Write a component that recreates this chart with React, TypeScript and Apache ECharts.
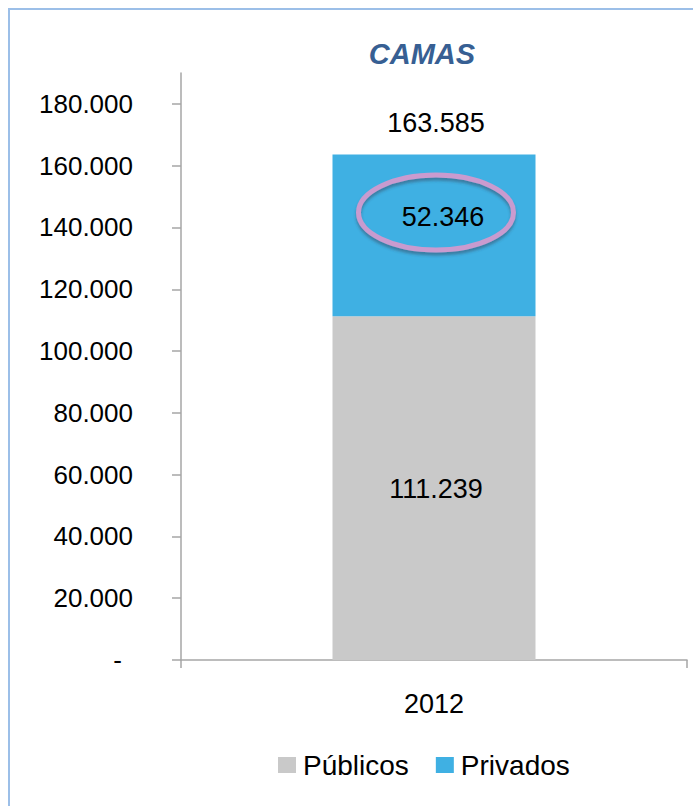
import React, { useEffect, useRef } from "react";
import * as echarts from "echarts";

const categories: string[] = ["2012"];
const publicos: number[] = [111239];
const privados: number[] = [52346];
const seriesNames: string[] = ["Públicos", "Privados"];
const yTicks: number[] = [0, 20000, 40000, 60000, 80000, 100000, 120000, 140000, 160000, 180000];
const titleText = "CAMAS";

const FONT = "'Liberation Sans', Arial, sans-serif";
const fmt = (v: number) => (v === 0 ? "-" : v.toLocaleString("de-DE"));

export default function App() {
  const ref = useRef<HTMLDivElement>(null);
  useEffect(() => {
    document.body.style.margin = "0";
    document.body.style.overflow = "hidden";
    if (!ref.current) return;
    const chart = echarts.init(ref.current, undefined, { renderer: "svg" });
    const totals = publicos.map((v, i) => v + privados[i]);
    chart.setOption({
      animation: false,
      title: {
        text: titleText,
        left: 407,
        top: 24,
        textAlign: "center",
        textStyle: {
          fontFamily: FONT,
          fontSize: 29,
          fontWeight: "bold",
          fontStyle: "italic",
          color: "#375f93",
        },
      },
      legend: {
        bottom: 22,
        left: 263,
        itemWidth: 18,
        itemHeight: 16,
        itemGap: 27,
        icon: "rect",
        textStyle: { fontFamily: FONT, fontSize: 28, color: "#000", padding: [0, 0, 0, 2] },
        data: seriesNames,
      },
      grid: { left: 171, right: 6, top: 63, bottom: 146 },
      xAxis: {
        type: "category",
        data: categories,
        axisLine: { lineStyle: { color: "#a6a6a6", width: 1.5 } },
        axisTick: { show: true, length: 8, lineStyle: { color: "#a6a6a6", width: 1.5 } },
        axisLabel: { fontFamily: FONT, fontSize: 27, color: "#000", margin: 30 },
      },
      yAxis: {
        type: "value",
        min: 0,
        max: 190000,
        interval: 20000,
        splitLine: { show: false },
        axisLine: { show: true, lineStyle: { color: "#a6a6a6", width: 1.5 } },
        axisTick: {
          show: true,
          length: 9,
          customValues: yTicks,
          lineStyle: { color: "#a6a6a6", width: 1.5 },
        },
        axisLabel: {
          customValues: yTicks,
          fontFamily: FONT,
          fontSize: 26,
          color: "#000",
          margin: 48,
          formatter: (v: number) => (v === 0 ? "{d|-}" : fmt(v)),
          rich: { d: { fontFamily: FONT, fontSize: 26, color: "#000", padding: [0, 11, 0, 0] } },
        },
      },
      series: [
        {
          name: seriesNames[0],
          type: "bar",
          stack: "total",
          data: publicos,
          barWidth: 203,
          itemStyle: { color: "#c9c9c9" },
          label: {
            show: true,
            position: "inside",
            offset: [2, 1],
            fontFamily: FONT,
            fontSize: 27,
            color: "#000",
            textBorderWidth: 0,
            formatter: (p: any) => fmt(p.value),
          },
        },
        {
          name: seriesNames[1],
          type: "bar",
          stack: "total",
          data: privados,
          barWidth: 203,
          itemStyle: { color: "#3fb0e3" },
          label: {
            show: true,
            position: "inside",
            offset: [9, -18],
            fontFamily: FONT,
            fontSize: 27,
            color: "#000",
            textBorderWidth: 0,
            formatter: (p: any) => fmt(p.value),
          },
        },
        {
          name: "Total",
          type: "scatter",
          data: totals,
          symbolSize: 0,
          silent: true,
          itemStyle: { opacity: 1, color: "#000" },
          label: {
            show: true,
            position: "top",
            distance: 18,
            offset: [2, 0],
            fontFamily: FONT,
            fontSize: 27,
            color: "#000",
            opacity: 1,
            textBorderWidth: 0,
            formatter: (p: any) => fmt(p.value),
          },
        },
      ],
    });
    const pt = chart.convertToPixel({ gridIndex: 0 } as any, [
      categories[0],
      publicos[0] + privados[0] / 2,
    ]) as number[];
    chart.setOption({
      graphic: [
        {
          type: "ellipse",
          shape: { cx: pt[0] + 2, cy: pt[1] - 23, rx: 77.5, ry: 37.5 },
          style: {
            fill: "none",
            stroke: "#c99bcf",
            lineWidth: 5,
            shadowColor: "rgba(50,60,80,0.45)",
            shadowOffsetY: 3,
            shadowBlur: 3,
          },
          z: 100,
          silent: true,
        },
      ],
    });
    return () => chart.dispose();
  }, []);
  return (
    <div
      style={{
        position: "absolute",
        left: 8,
        top: 8,
        width: 683,
        height: 796,
        borderLeft: "2px solid #9cbfe8",
        borderTop: "2px solid #9cbfe8",
        background: "#fff",
      }}
    >
      <div ref={ref} style={{ width: 683, height: 796 }} />
    </div>
  );
}
